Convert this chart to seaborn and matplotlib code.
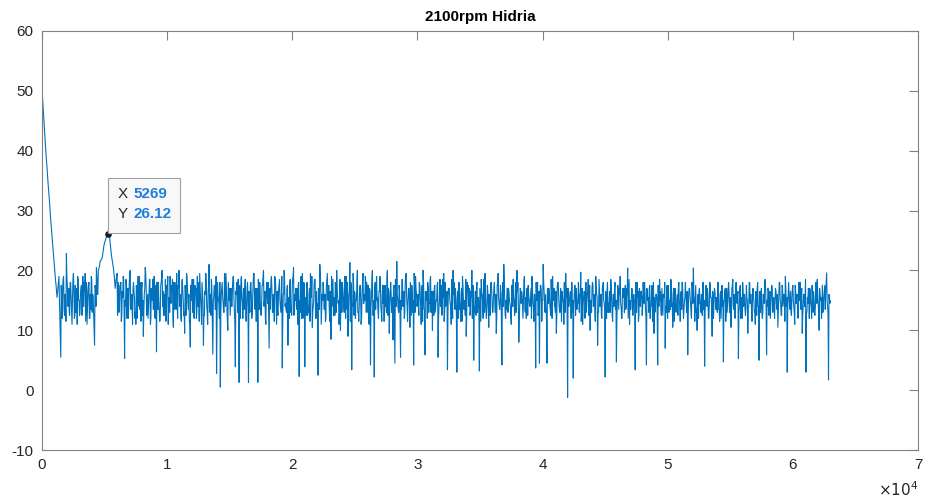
import numpy as np
import pandas as pd
import matplotlib
matplotlib.use("Agg")
import matplotlib.pyplot as plt
import matplotlib.transforms as mtransforms
from matplotlib.patches import Rectangle
import seaborn as sns

# ---------------- data ----------------
title = "2100rpm Hidria"
x_step = 150
# samples at x = 0, 150, 300, ...
amplitude = [
    50.3, 45, 40, 35.5, 31.5, 27, 23, 19, 15.5, 19,
    5.5, 17, 12.5, 22.8, 14, 18, 11, 16.5, 13, 19,
    12.5, 17.5, 14, 19.5, 11, 18, 13.5, 16, 7.5, 20.5,
    20, 21.5, 22, 24.2, 25.3, 26.1, 25.6, 22.5, 20.5, 17,
    19.5, 13, 18, 15.5, 5.3, 17.5, 12, 20, 14, 16.5,
    11, 19, 13.5, 17, 9, 20.5, 14, 16, 12, 18.5,
    14, 6.4, 18, 12.5, 20, 15, 11.5, 19, 13, 17.5,
    10.5, 18, 14.5, 20, 12, 16.5, 9.5, 19.5, 13.5, 7.2,
    18.5, 12, 17, 14, 19.5, 11, 7.5, 16, 13, 21,
    12.5, 6, 17.5, 2.8, 15, 0.5, 18, 13, 19.5, 10,
    17, 14, 19, 3.9, 16, 1.3, 18.5, 12, 16.5, 14,
    1.3, 17.5, 13, 19.5, 11.5, 1.3, 18, 14.5, 20, 12,
    16, 7, 18.5, 13, 19, 11, 16.5, 14, 3.7, 20,
    13.5, 7.5, 18, 12.5, 20.5, 15, 17, 2.3, 19, 12,
    3.9, 17.5, 13, 19.5, 10.5, 18, 14, 2.5, 21, 13.5,
    17, 11.5, 19.5, 14, 8.5, 18.5, 12.5, 20, 15, 10,
    18, 13, 19, 9, 21.3, 3.4, 17.5, 12, 20, 14.5,
    11, 19.5, 15, 18, 12.5, 4.2, 20, 2.2, 17, 13,
    19, 11.5, 17.5, 14, 20, 9.5, 16, 8.4, 4.5, 21.5,
    13, 5.5, 18.5, 12, 19.5, 15, 10.5, 17.5, 4.2, 19,
    14.5, 18, 11, 20, 5.9, 16.5, 13, 19, 10, 17,
    15, 5.5, 18.5, 12.5, 19.5, 14, 3.4, 17, 11, 20,
    13.5, 3, 18, 11.5, 19, 14.5, 9, 17.5, 12.5, 20,
    5, 16.5, 13, 3.2, 18.5, 12, 19.5, 14, 10.5, 17.5,
    13, 18, 9.5, 19.5, 14.5, 4.2, 21, 12, 17, 15,
    11, 18.5, 13.5, 20, 8, 16.5, 14, 19, 12, 17.5,
    14, 19, 11.5, 3.7, 18, 4.5, 16.5, 21, 13, 4.5,
    17, 12.5, 19, 14, 9.5, 18, 13, 16.5, 11, 19.5,
    -1.2, 15, 12, 2, 17.5, 13.5, 16, 19.7, 11, 16.5,
    13, 18.5, 10, 17, 14.5, 19, 7.5, 16, 12.5, 18,
    2.2, 16.5, 13, 18.5, 11.5, 17, 4.7, 15.5, 19, 12,
    17, 13.5, 20.4, 11, 16, 14, 3.4, 18, 12.5, 16.5,
    14, 18, 4.2, 15.5, 12, 17.5, 9.5, 16, 4.2, 18.5,
    12.5, 16, 7, 17.5, 13, 18.5, 10.5, 15.5, 14, 17,
    11.5, 18, 13.5, 16, 5.9, 17, 12, 20.4, 14.5, 10,
    16.5, 13, 18, 4, 15.5, 12, 17.5, 9, 16, 13.5,
    18, 11.5, 15, 4.7, 17, 13, 16.5, 10.5, 18.5, 12.5,
    15.5, 5.3, 17.5, 12, 16, 14, 9.5, 18, 13, 15.5,
    11, 17, 5, 15.5, 13, 18, 5.9, 16.5, 12, 17,
    14, 16.5, 10.5, 18, 12.5, 15, 19, 3, 16, 13,
    17.5, 11, 15.5, 13.5, 18, 9.5, 16, 3, 14.5, 17,
    12, 16.5, 14, 18.5, 10, 15.5, 13, 17.5, 19.6, 1.7,
    15,
]
# samples in between, at x = 75, 225, 375, ...
amplitude_mid = [
    47.5, 42.5, 38, 33.5, 29, 25, 21, 17.5, 17, 12,
    14, 19, 16, 17.5, 13, 15.5, 18.5, 12.5, 17, 15,
    16, 13, 18, 14.5, 16.5, 12, 18.5, 13, 17, 16,
    20.5, 21.8, 23, 24.8, 25.8, 26, 24, 21.5, 19, 18.5,
    16, 17.5, 12.5, 18.5, 14, 15, 18, 13.5, 17, 12,
    16.5, 14, 18, 12.5, 16, 17, 12, 18.5, 15, 13.5,
    17.5, 15, 13, 18, 16.5, 12.5, 17.5, 14, 15.5, 18.5,
    15, 13.5, 17.5, 14.5, 18, 12.5, 16, 17, 11.5, 16,
    14, 17.5, 13, 18, 15, 16.5, 12.5, 18, 16.5, 14.5,
    17, 15.5, 13.5, 18, 12, 16, 14.5, 17.5, 14, 16.5,
    15, 17.5, 13, 16, 18.5, 12, 15.5, 17, 13.5, 18,
    14.5, 16, 18, 13.5, 17, 15.5, 13, 17.5, 15, 16.5,
    18, 13.5, 16.5, 15, 17.5, 13, 18.5, 15.5, 16, 14,
    17, 15.5, 13, 18.5, 16, 14, 17.5, 13, 16.5, 18,
    15, 12.5, 17, 15.5, 14, 18.5, 12, 16, 17.5, 15,
    13.5, 17.5, 15, 16.5, 14, 12.5, 17, 15.5, 13, 18,
    15.5, 17, 13.5, 16, 18, 14, 16.5, 15, 13, 17.5,
    16, 14.5, 18, 13, 17, 15.5, 12.5, 18, 15, 16.5,
    14, 17.5, 15.5, 13, 17, 16, 14.5, 17.5, 18, 15,
    16.5, 13.5, 15, 18, 14, 17, 15.5, 13, 17.5, 16,
    14, 16, 17.5, 13.5, 15, 18, 14.5, 16.5, 15, 13,
    17.5, 14, 16, 18.5, 13, 15.5, 17, 14.5, 16, 18,
    15, 16.5, 13.5, 17, 15, 12.5, 18, 14, 16.5, 15.5,
    13, 17.5, 15.5, 14, 16, 18, 13.5, 16.5, 15, 17,
    15.5, 13, 17.5, 14.5, 16, 18, 15, 13.5, 17, 14,
    16.5, 15, 13, 18, 14, 16.5, 15.5, 13, 17, 15,
    17, 14.5, 16, 15, 13, 17.5, 15, 16.5, 14, 17,
    14.5, 16, 15, 13, 17.5, 14, 16.5, 15, 13.5, 17,
    14, 16.5, 13, 15.5, 17, 14.5, 16, 13, 15.5, 14,
    16, 13.5, 15, 17.5, 14, 16, 13, 15.5, 17, 14.5,
    15.5, 13, 16.5, 14.5, 16, 13.5, 15, 17, 14, 16,
    14.5, 17, 15, 13.5, 16, 15, 13, 16.5, 14.5, 15.5,
    16, 13.5, 15, 17, 14, 16.5, 13, 15.5, 14, 16.5,
    14.5, 15.5, 13, 16.5, 15, 14, 17, 13.5, 16, 15,
    16.5, 14, 15.5, 13, 16, 14.5, 17, 15, 13, 16,
    14.5, 16, 13.5, 15, 17, 14, 15.5, 13, 16.5, 15,
    13.5, 16.5, 14, 15.5, 13, 16, 14.5, 17, 13.5, 15.5,
    16, 14, 15, 16.5, 13.5, 15.5, 14, 16, 15, 13,
    15.5, 14, 16.5, 13, 15, 17, 14, 15.5, 16, 13.5,
    15, 13.5, 16, 14.5, 17, 15.5, 14, 16, 13.5, 15.5,
    14, 16.5, 13.5, 15, 16, 14, 15.5, 13, 16.5, 14.5,
    15.5, 13, 16.5, 14.5, 16, 13.5, 15.5, 16.5, 14, 15,
]
# further samples, at x = 37.5, 112.5, 187.5, ...
amplitude_q = [
    49, 46.2, 43.7, 41.2, 39, 36.8, 34.5, 32.5, 30.2, 28,
    26, 24, 22, 20, 18.2, 16.5, 16.2, 18, 15.5, 9,
    17.5, 12, 18.5, 13.5, 16, 11.5, 19, 14, 17, 12.5, 18, 13, 15.5, 19.5, 12, 17.5, 14.5, 11, 18.5, 15,
    13, 17, 12.5, 19, 14, 16.5, 11.5, 18, 13.5, 17.5, 12, 16, 19, 13, 15.5, 10.5, 17.5, 14, 18.5, 16,
    20.3, 21, 21.6, 21.9, 22.5, 23.6, 24.5, 25, 25.5, 26, 26.1, 25.8, 24.8, 23.2, 22, 21, 19.8, 18, 17.8, 19,
    12.5, 18, 14, 17.5, 11.5, 16.5, 19, 13, 15, 18.5, 12, 17, 14.5, 19.5, 13.5, 16, 11, 18, 15.5, 13,
    17.5, 12, 16.5, 19, 14, 11.5, 18, 15, 13, 17, 19.5, 12.5, 16, 14, 18.5, 11, 17, 15.5, 13.5, 19,
    12, 16.5, 18, 13.5, 15, 11.5, 17.5, 19, 14, 12.5, 16, 18.5, 13, 17, 11, 15.5, 19, 14.5, 16.5, 12,
    18, 13.5, 15.5, 19.5, 12, 17, 14, 16, 11.5, 18.5, 15, 13, 17.5, 12.5, 19, 14.5, 16, 11, 17.5, 15,
    13, 18.5, 14, 16.5, 12, 19, 15.5, 11.5, 17, 13.5, 18, 15, 12.5, 16.5, 19.5, 14, 11, 17.5, 13, 16,
    18.5, 12, 15, 17.5, 13.5, 19, 11.5, 16, 14.5, 18, 12.5, 17, 15.5, 13, 19.5, 14, 16.5, 11.5, 18, 15,
    12.5, 17, 14, 19, 15.5, 11, 16.5, 18, 13, 15, 17.5, 12, 19, 14.5, 16, 13.5, 18.5, 11.5, 17, 14,
    16.5, 13, 18, 12, 15.5, 19.5, 14, 17, 11.5, 16, 18.5, 13.5, 15, 12.5, 17.5, 19, 14, 16.5, 11, 18,
    14.5, 12, 17, 15.5, 19, 13, 16, 11.5, 18.5, 14, 16.5, 12.5, 17.5, 15, 13, 19, 11.5, 16, 18, 14.5,
    13, 17.5, 15, 12, 18.5, 14, 16.5, 19, 12.5, 15.5, 17, 13.5, 11, 18, 15, 16.5, 12, 19.5, 14, 17,
    15.5, 12.5, 18, 14, 16, 11.5, 17.5, 19, 13, 15, 18.5, 12, 16.5, 14.5, 17, 13.5, 19, 11, 16, 18,
    13.5, 16, 12, 18.5, 15, 17.5, 11.5, 14, 19, 16.5, 12.5, 15.5, 18, 13, 17, 14.5, 11, 18.5, 16, 13,
    17, 14, 19, 12, 15.5, 18, 13.5, 16.5, 11.5, 17.5, 14.5, 19.5, 12.5, 16, 15, 18, 13, 11.5, 17, 15.5,
    12, 18, 14.5, 16, 19, 13, 15.5, 17.5, 11, 16.5, 14, 18.5, 12.5, 15, 17, 13.5, 19, 15.5, 12, 16.5,
    18, 13, 16, 14.5, 11.5, 17.5, 15, 19, 12.5, 16.5, 14, 18, 13, 15.5, 17, 11.5, 18.5, 14, 16, 13.5,
    17.5, 12, 15, 18.5, 14, 16.5, 13, 19, 15.5, 11.5, 17, 14.5, 18, 12.5, 16, 15, 19.5, 13, 17, 14,
    16, 12.5, 17.5, 14, 15.5, 11.5, 18, 13.5, 16.5, 15, 12, 17, 14.5, 18.5, 13, 15.5, 16.5, 12.5, 17.5, 14,
    15, 18, 12, 16, 14, 17.5, 13, 15.5, 11.5, 18, 14.5, 16.5, 12.5, 17, 15, 13.5, 18.5, 12, 16, 14.5,
    17, 13, 15.5, 12, 18, 14.5, 16, 11.5, 17.5, 13.5, 15, 18.5, 12.5, 16.5, 14, 17, 13, 15.5, 12, 17.5,
    14, 16.5, 12.5, 18, 15, 13.5, 17, 11.5, 16, 14.5, 18.5, 13, 15.5, 12, 17.5, 14, 16, 12.5, 18, 15,
    13, 17, 14.5, 16, 12, 18, 15.5, 13.5, 17.5, 11.5, 16, 14, 18.5, 12.5, 15, 17, 13, 16.5, 14.5, 12,
    17.5, 14, 15.5, 12.5, 18, 13, 16.5, 15, 11.5, 17, 14.5, 16, 12, 18.5, 13.5, 15.5, 17, 12.5, 16, 14,
    15.5, 12, 17.5, 14, 16, 13, 18, 15, 12.5, 16.5, 14, 17.5, 11.5, 15, 18, 13.5, 16, 12, 17, 14.5,
    16, 13.5, 18.5, 12, 15, 17, 14, 16.5, 12.5, 18, 15.5, 13, 17, 11.5, 16, 14.5, 18, 13, 15.5, 12.5,
    17, 14, 16, 12, 18, 15, 13.5, 17.5, 12.5, 16, 14.5, 18, 13, 15.5, 11.5, 17, 14, 16.5, 12, 18,
    14.5, 16.5, 12.5, 17.5, 15, 13, 18, 14, 16, 11.5, 17, 15.5, 13, 18.5, 14, 16, 12, 17.5, 15, 13.5,
    16.5, 12, 18, 14.5, 15.5, 13, 17, 12.5, 16, 14, 18, 15, 11.5, 17.5, 13.5, 16, 14.5, 12, 17, 15.5,
    13, 17.5, 14, 16, 12, 18.5, 15, 13.5, 17, 12.5, 16, 14.5, 18, 13, 15.5, 11.5, 17, 14, 16.5, 12.5,
    18, 14.5, 16, 12, 17, 15, 13, 17.5, 14, 16.5, 11.5, 18, 15.5, 13.5, 16, 12.5, 17.5, 14, 15, 13,
    17, 12.5, 15.5, 18, 14, 16, 12, 17.5, 15, 13.5, 18, 14.5, 16, 11.5, 17, 13, 15.5, 12.5, 18, 14,
    16, 13.5, 17.5, 12, 15, 18, 14, 16.5, 12.5, 17, 15.5, 13, 18, 14.5, 16, 11.5, 17.5, 13.5, 15, 12,
    17, 14.5, 16, 12.5, 18, 15, 13, 17.5, 14, 16, 12, 18, 15.5, 13.5, 16.5, 12, 17, 14.5, 15.5, 13,
    18, 13.5, 16, 12, 17.5, 15, 14, 16.5, 11.5, 17, 14.5, 18, 13, 15.5, 12.5, 17.5, 14, 16, 12, 18,
    14.5, 16.5, 13, 17, 12, 15.5, 18, 14, 16, 12.5, 17.5, 15, 13.5, 18, 14.5, 16, 11.5, 17, 15, 13,
    16.5, 12.5, 18, 14, 15.5, 13, 17, 12, 16, 14.5, 18.5, 13.5, 15, 17, 12.5, 16.5, 14, 17.5, 13, 15.5,
    12, 17, 14.5, 16, 13, 18, 15, 12.5, 17.5, 14, 16, 11.5, 17, 15.5, 13.5, 18, 14, 16.5, 12.5, 17,
    15, 13, 17.5, 14.5, 16, 12, 18, 15.5, 13.5, 17, 12.5, 16, 14, 18.5, 13, 15.5, 17, 12, 16.5, 14,
    17.5, 13, 15.5, 12.5, 18, 14.5, 16, 13, 17, 15, 12, 17.5, 14, 16.5, 13.5, 18, 15, 12.5, 16, 14.5,
]

tip_x = 5269
tip_y = 26.12

x_ticks = [0, 10000, 20000, 30000, 40000, 50000, 60000, 70000]
y_ticks = [-10, 0, 10, 20, 30, 40, 50, 60]

x_main = np.arange(len(amplitude)) * x_step
x_mid = np.arange(len(amplitude_mid)) * x_step + x_step / 2
x_q = np.arange(len(amplitude_q)) * (x_step / 2) + x_step / 4
df = pd.DataFrame({
    "x": np.concatenate([x_main, x_mid, x_q]),
    "y": np.concatenate([amplitude, amplitude_mid, amplitude_q]),
}).sort_values("x").reset_index(drop=True)

# ---------------- style ----------------
sns.set_style("white")
plt.rcParams["font.family"] = ["Liberation Sans", "DejaVu Sans"]
line_color = "#0072BD"
axis_color = "#808080"
text_color = "#262626"

fig = plt.figure(figsize=(9.26, 5.03), dpi=100)
fig.patch.set_facecolor("white")
ax = fig.add_axes([42 / 926, 1 - 450 / 503, 876 / 926, 419 / 503])

sns.lineplot(data=df, x="x", y="y", ax=ax, color=line_color,
             linewidth=0.8, estimator=None, sort=False)

ax.set_xlim(x_ticks[0], x_ticks[-1])
ax.set_ylim(y_ticks[0], y_ticks[-1])
ax.set_xticks(x_ticks)
ax.set_yticks(y_ticks)
ax.set_xticklabels([f"{t / 1e4:g}" for t in x_ticks])
ax.set_yticklabels([f"{t:g}" for t in y_ticks])
ax.set_xlabel("")
ax.set_ylabel("")

for sp in ax.spines.values():
    sp.set_visible(True)
    sp.set_color(axis_color)
    sp.set_linewidth(0.8)
ax.tick_params(axis="both", direction="in", length=6.5, width=0.8,
               colors=axis_color, labelcolor=text_color, labelsize=11,
               top=True, right=True, pad=6)

ax.set_title(title, fontsize=11, fontweight="bold", color="black", pad=7)

ax.text(1.0, -0.095, r"$\times10^{4}$", transform=ax.transAxes,
        ha="right", va="center", fontsize=11, color=text_color)

# ---------------- data tip ----------------
ax.scatter([tip_x], [tip_y], s=14, color="#1a1a1a", zorder=6)
fig.canvas.draw()
px, py = ax.transData.transform((tip_x, tip_y))
ident = mtransforms.IdentityTransform()
box = Rectangle((px, py + 1), 72, 55, transform=ident, facecolor="#f8f8f8",
                edgecolor="#a0a0a0", linewidth=0.8, zorder=7)
fig.patches.append(box)
fig.text(px + 10, py + 40, "X", transform=ident, fontsize=11,
         color=text_color, va="center", ha="left", zorder=8)
fig.text(px + 26, py + 40, f"{tip_x}", transform=ident, fontsize=11,
         color="#1f7fd8", fontweight="bold", va="center", ha="left", zorder=8)
fig.text(px + 10, py + 20, "Y", transform=ident, fontsize=11,
         color=text_color, va="center", ha="left", zorder=8)
fig.text(px + 26, py + 20, f"{tip_y:.2f}", transform=ident, fontsize=11,
         color="#1f7fd8", fontweight="bold", va="center", ha="left", zorder=8)

fig.savefig("out.png", dpi=100, facecolor="white")
